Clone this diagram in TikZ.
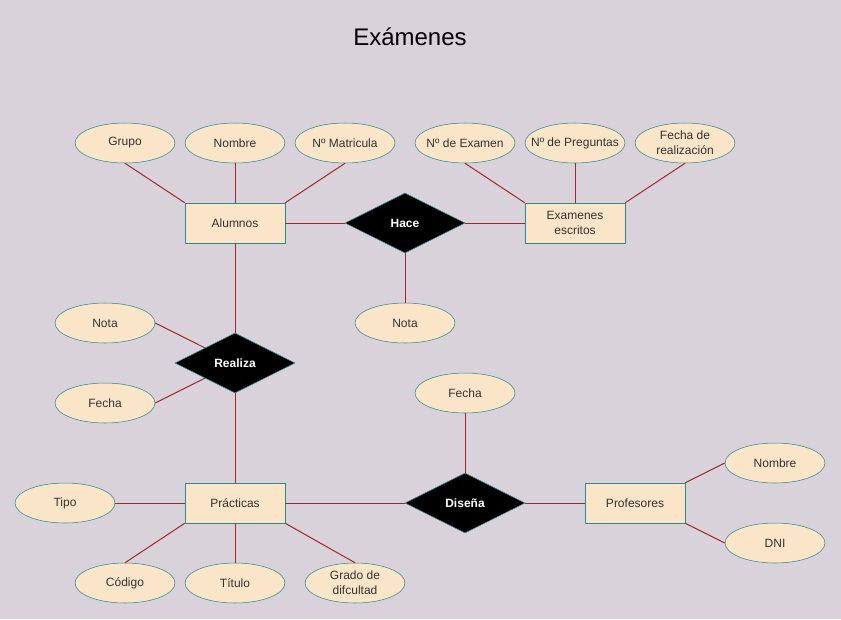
\documentclass[tikz,border=0pt]{standalone}
\usepackage{fontspec}
\setmainfont{Liberation Sans}
\usepackage{tikz}
\usetikzlibrary{shapes.geometric}
\definecolor{bgcol}{HTML}{DAD2DA}
\definecolor{boxcol}{HTML}{FAE5C8}
\definecolor{edgecol}{HTML}{288C8C}
\definecolor{linkcol}{HTML}{A02828}
\definecolor{textcol}{HTML}{333333}
\tikzstyle{entity}=[draw=edgecol,fill=boxcol,text=textcol,minimum width=75pt,minimum height=30pt,inner sep=0,align=center]
\tikzstyle{attrib}=[ellipse,draw=edgecol,fill=boxcol,text=textcol,minimum width=75pt,minimum height=30pt,inner xsep=-8pt,inner ysep=-3pt,align=center]
\tikzstyle{relation}=[diamond,draw=edgecol,fill=black,text=white,font=\bfseries\fontsize{9}{11}\selectfont,minimum width=90pt,minimum height=45pt,inner sep=0]
\tikzstyle{link}=[draw=linkcol,line width=0.75pt]

\begin{document}
\begin{tikzpicture}[x=0.75pt,y=-0.75pt,font=\fontsize{9}{11}\selectfont]
  \fill[bgcol] (0,0) rectangle (841,619);
  \useasboundingbox (0,0) rectangle (841,619);
  \node[font=\fontsize{18}{22}\selectfont] (title) at (410,37) {Exámenes};
  % entities and relations
  \node[entity] (alumnos) at (235,223) {Alumnos};
  \node[entity] (examenes) at (575,223) {Examenes\\escritos};
  \node[entity] (practicas) at (235,503) {Prácticas};
  \node[entity] (profesores) at (635,503) {Profesores};
  \node[relation] (hace) at (405,223) {Hace};
  \node[relation] (realiza) at (235,363) {Realiza};
  \node[relation] (disena) at (465,503) {Diseña};
  % attributes
  \node[attrib] (grupo) at (125,143) {Grupo};
  \node[attrib] (nombreal) at (235,143) {Nombre};
  \node[attrib] (matricula) at (345,143) {Nº Matricula};
  \node[attrib] (numexamen) at (465,143) {Nº de Examen};
  \node[attrib] (preguntas) at (575,143) {Nº de Preguntas};
  \node[attrib] (fechareal) at (685,143) {Fecha de\\realización};
  \node[attrib] (notahace) at (405,323) {Nota};
  \node[attrib] (notareal) at (105,323) {Nota};
  \node[attrib] (fechareal2) at (105,403) {Fecha};
  \node[attrib] (fechadis) at (465,393) {Fecha};
  \node[attrib] (tipo) at (65,503) {Tipo};
  \node[attrib] (codigo) at (125,583) {Código};
  \node[attrib] (titulo) at (235,583) {Título};
  \node[attrib] (grado) at (355,583) {Grado de\\difcultad};
  \node[attrib] (nombrepr) at (775,463) {Nombre};
  \node[attrib] (dni) at (775,543) {DNI};
  % connectors
  \draw[link] (grupo.south) -- (alumnos.north west);
  \draw[link] (nombreal) -- (alumnos);
  \draw[link] (matricula.south) -- (alumnos.north east);
  \draw[link] (numexamen.south) -- (examenes.north west);
  \draw[link] (preguntas) -- (examenes);
  \draw[link] (fechareal.south) -- (examenes.north east);
  \draw[link] (alumnos) -- (hace);
  \draw[link] (hace) -- (examenes);
  \draw[link] (hace) -- (notahace);
  \draw[link] (alumnos) -- (realiza);
  \draw[link] (realiza) -- (practicas);
  \draw[link] (notareal.east) -- (realiza.north west);
  \draw[link] (fechareal2.east) -- (realiza.south west);
  \draw[link] (tipo) -- (practicas);
  \draw[link] (codigo.north) -- (practicas.south west);
  \draw[link] (titulo) -- (practicas);
  \draw[link] (grado.north) -- (practicas.south east);
  \draw[link] (practicas) -- (disena);
  \draw[link] (disena) -- (profesores);
  \draw[link] (fechadis) -- (disena);
  \draw[link] (nombrepr.west) -- (profesores.north east);
  \draw[link] (dni.west) -- (profesores.south east);
\end{tikzpicture}
\end{document}
